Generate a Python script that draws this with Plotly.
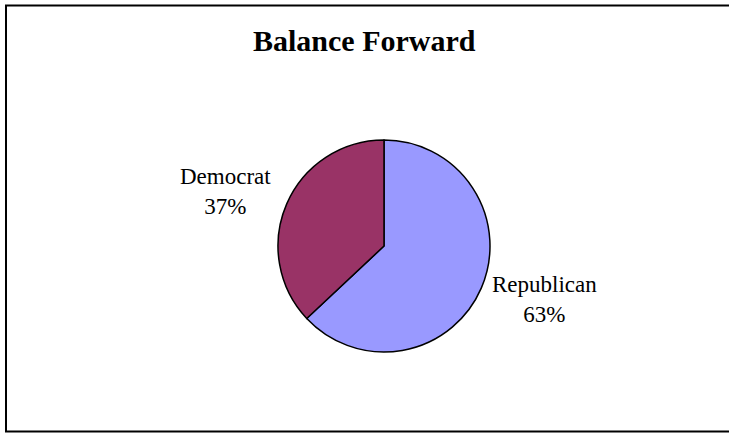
import plotly.graph_objects as go

# Party share of the balance forward
parties = ["Republican", "Democrat"]
shares = [63, 37]
colors = ["#9999FF", "#993366"]

W, H = 729, 433
cx, cy, r = 384, 246, 106  # pie centre and radius in pixels

fig = go.Figure(
    go.Pie(
        labels=parties,
        values=shares,
        sort=False,
        direction="clockwise",
        rotation=0,
        marker=dict(colors=colors, line=dict(color="#000000", width=1.5)),
        textinfo="none",
        hoverinfo="label+percent",
        showlegend=False,
        domain=dict(
            x=[(cx - r) / W, (cx + r) / W],
            y=[1 - (cy + r) / H, 1 - (cy - r) / H],
        ),
    )
)

total = sum(shares)
label_pos = {"Republican": (544, 299), "Democrat": (225, 191)}
annotations = []
for name, val in zip(parties, shares):
    px, py = label_pos[name]
    annotations.append(
        dict(
            text=f"{name}<br>{round(100 * val / total)}%",
            x=px / W,
            y=1 - py / H,
            xref="paper",
            yref="paper",
            showarrow=False,
            xanchor="center",
            yanchor="middle",
            font=dict(family="Liberation Serif", size=23, color="#000000"),
        )
    )

annotations.append(
    dict(
        text="<b>Balance Forward</b>",
        x=364 / W,
        y=1 - 40 / H,
        xref="paper",
        yref="paper",
        showarrow=False,
        xanchor="center",
        yanchor="middle",
        font=dict(family="Liberation Serif", size=30, color="#000000"),
    )
)

fig.update_layout(
    width=W,
    height=H,
    margin=dict(l=0, r=0, t=0, b=0),
    paper_bgcolor="#FFFFFF",
    plot_bgcolor="#FFFFFF",
    annotations=annotations,
    shapes=[
        dict(
            type="rect",
            xref="paper",
            yref="paper",
            x0=6 / W,
            x1=1.02,
            y0=1 - 431.5 / H,
            y1=1 - 5.5 / H,
            line=dict(color="#000000", width=2),
            fillcolor="rgba(0,0,0,0)",
        )
    ],
)

fig.write_html("out.html")
